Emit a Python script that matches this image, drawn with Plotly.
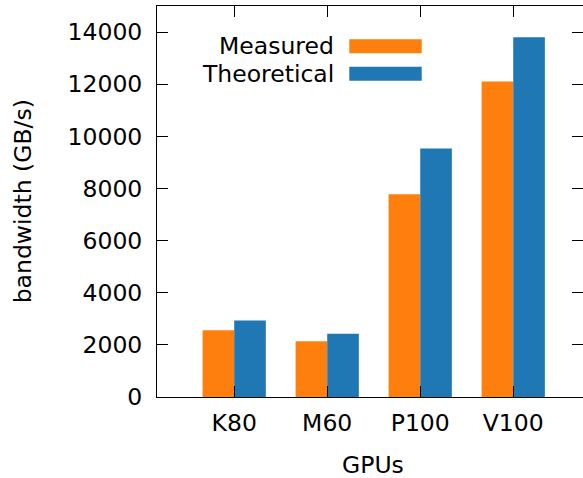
import plotly.graph_objects as go

gpus = ["K80", "M60", "P100", "V100"]
measured = [2560, 2140, 7780, 12100]
theoretical = [2930, 2430, 9530, 13800]
y_ticks = [0, 2000, 4000, 6000, 8000, 10000, 12000, 14000]

ORANGE = "#ff7f0e"
BLUE = "#1f77b4"
FONT = "DejaVu Sans"
FS = 23.5

fig = go.Figure()
fig.add_trace(go.Bar(x=gpus, y=measured, name="Measured",
                     marker=dict(color=ORANGE, line=dict(width=0))))
fig.add_trace(go.Bar(x=gpus, y=theoretical, name="Theoretical",
                     marker=dict(color=BLUE, line=dict(width=0))))
# empty helper trace so the right-hand (mirrored tick) axis is drawn
fig.add_trace(go.Scatter(x=[], y=[], yaxis="y2", showlegend=False,
                         hoverinfo="skip"))

fig.update_layout(
    width=583, height=478,
    margin=dict(l=157, r=0, t=6, b=81),
    paper_bgcolor="white", plot_bgcolor="white",
    barmode="group", bargap=0.32, bargroupgap=0,
    showlegend=False,
    font=dict(family=FONT, size=FS, color="black"),
    yaxis2=dict(overlaying="y", side="right", range=[0, 15000],
                tickvals=y_ticks, showticklabels=False,
                ticks="inside", ticklen=11, tickcolor="black", tickwidth=1,
                showline=False, showgrid=False, zeroline=False),
)
fig.update_xaxes(
    range=[-0.83, 3.75],
    showline=True, linecolor="black", linewidth=1, mirror="ticks",
    ticks="inside", ticklen=11, tickcolor="black", tickwidth=1,
    showgrid=False, ticklabelstandoff=5,
    tickfont=dict(family=FONT, size=FS, color="black"),
)
fig.layout.yaxis.update(
    range=[0, 15000],
    tickvals=y_ticks, ticktext=[str(v) for v in y_ticks],
    showline=True, linecolor="black", linewidth=1, mirror=False,
    ticks="inside", ticklen=11, tickcolor="black", tickwidth=1,
    showgrid=False, zeroline=False, ticklabelstandoff=9,
    tickfont=dict(family=FONT, size=FS, color="black"),
)

# axis titles
fig.add_annotation(text="bandwidth (GB/s)", xref="paper", yref="paper",
                   x=-0.315, y=0.5, xanchor="center", yanchor="middle",
                   textangle=-90, showarrow=False,
                   font=dict(family=FONT, size=FS, color="black"))
fig.add_annotation(text="GPUs", xref="paper", yref="paper",
                   x=0.507, y=-0.174, xanchor="center", yanchor="middle",
                   showarrow=False,
                   font=dict(family=FONT, size=FS, color="black"))

# legend (text left of the sample, gnuplot style)
legend_items = [("Measured", ORANGE, 0.8969, 0.879, 0.9148),
                ("Theoretical", BLUE, 0.8269, 0.809, 0.8448)]
for name, col, yc, y0, y1 in legend_items:
    fig.add_annotation(text=name, xref="paper", yref="paper",
                       x=0.42, y=yc, xanchor="right", yanchor="middle",
                       showarrow=False,
                       font=dict(family=FONT, size=FS, color="black"))
    fig.add_shape(type="rect", xref="paper", yref="paper",
                  x0=0.4514, x1=0.6214, y0=y0, y1=y1,
                  fillcolor=col, line=dict(width=0))

fig.write_html("out.html",
               config={"displayModeBar": False},
               post_script="document.body.style.margin='0';"
                           "document.body.style.overflow='hidden';")
